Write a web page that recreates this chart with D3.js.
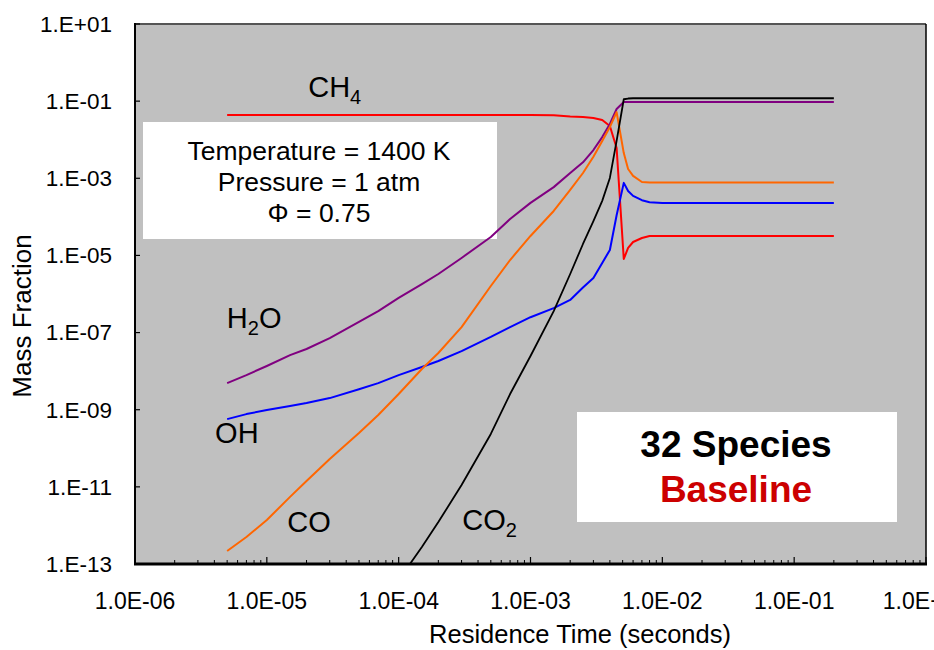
<!DOCTYPE html>
<html>
<head>
<meta charset="utf-8">
<script src="https://cdn.jsdelivr.net/npm/d3@7"></script>
<style>
  html, body { margin: 0; padding: 0; background: #fff; }
  svg { display: block; font-family: "Liberation Sans", Arial, sans-serif; }
</style>
</head>
<body>
<svg id="chart" width="934" height="650"></svg>
<script>
// Residence time grid (seconds)
const time = [5e-6, 7e-6, 1e-5, 1.5e-5, 2e-5, 3e-5, 5e-5, 7e-5, 1e-4, 1.5e-4, 2e-4, 3e-4, 5e-4, 7e-4,
  1e-3, 1.5e-3, 2e-3, 2.5e-3, 3e-3, 3.5e-3, 4e-3, 4.5e-3, 5.1e-3, 5.5e-3, 6e-3, 7e-3, 8e-3, 1e-2, 2e-2, 5e-2, 0.1, 0.2];

// Mass fractions
const ch4 = [4.4e-2, 4.4e-2, 4.4e-2, 4.4e-2, 4.4e-2, 4.4e-2, 4.4e-2, 4.4e-2, 4.4e-2, 4.4e-2, 4.4e-2, 4.4e-2, 4.4e-2, 4.4e-2,
  4.35e-2, 4.3e-2, 4.0e-2, 3.9e-2, 3.66e-2, 3.25e-2, 2.27e-2, 6.1e-3, 8.1e-6, 1.56e-5, 2.23e-5, 2.83e-5, 3.2e-5, 3.2e-5, 3.2e-5, 3.2e-5, 3.2e-5, 3.2e-5];
const h2o = [4.9e-9, 7.9e-9, 1.36e-8, 2.6e-8, 3.75e-8, 7.2e-8, 1.88e-7, 3.6e-7, 7.9e-7, 1.8e-6, 3.3e-6, 8.6e-6, 3.0e-5, 8.8e-5,
  2.3e-4, 5.9e-4, 1.37e-3, 2.6e-3, 5.4e-3, 1.17e-2, 2.55e-2, 6.25e-2, 9.5e-2, 9.5e-2, 9.5e-2, 9.5e-2, 9.5e-2, 9.5e-2, 9.5e-2, 9.5e-2, 9.5e-2, 9.5e-2];
const oh = [5.7e-10, 7.7e-10, 9.8e-10, 1.25e-9, 1.49e-9, 2.0e-9, 3.4e-9, 4.9e-9, 7.9e-9, 1.28e-8, 1.83e-8, 3.3e-8, 7.7e-8, 1.39e-7,
  2.5e-7, 4.3e-7, 7.0e-7, 1.47e-6, 2.6e-6, 6.4e-6, 1.38e-5, 1.1e-4, 7.6e-4, 4.7e-4, 3.5e-4, 2.7e-4, 2.4e-4, 2.3e-4, 2.3e-4, 2.3e-4, 2.3e-4, 2.3e-4];
const co = [2.17e-13, 5.0e-13, 1.38e-12, 5.5e-12, 1.42e-11, 5.3e-11, 2.5e-10, 7.3e-10, 2.55e-9, 1.14e-8, 2.95e-8, 1.39e-7, 1.61e-6, 7.6e-6,
  3.2e-5, 1.42e-4, 5.0e-4, 1.37e-3, 3.6e-3, 9.3e-3, 2.14e-2, 5.2e-2, 4.5e-3, 1.74e-3, 1.15e-3, 8.0e-4, 7.8e-4, 7.8e-4, 7.8e-4, 7.8e-4, 7.8e-4, 7.8e-4];
const co2 = [null, null, null, null, null, null, null, null, 3.85e-14, 2.75e-13, 1.22e-12, 1.12e-11, 2.35e-10, 2.55e-9,
  2.47e-8, 3.6e-7, 3.3e-6, 1.98e-5, 7.8e-5, 2.6e-4, 1.02e-3, 9.3e-3, 0.112, 0.117, 0.119, 0.119, 0.119, 0.119, 0.119, 0.119, 0.119, 0.119];

const seriesNames = ["CH4", "H2O", "OH", "CO", "CO2"];
const seriesValues = [ch4, h2o, oh, co, co2];
const seriesColors = ["#FF0000", "#800080", "#0000FF", "#FF6600", "#000000"];

const xTickValues = [1e-6, 1e-5, 1e-4, 1e-3, 1e-2, 1e-1, 1e0];
const xTickLabels = ["1.0E-06", "1.0E-05", "1.0E-04", "1.0E-03", "1.0E-02", "1.0E-01", "1.0E+00"];
const yTickValues = [1e1, 1e-1, 1e-3, 1e-5, 1e-7, 1e-9, 1e-11, 1e-13];
const yTickLabels = ["1.E+01", "1.E-01", "1.E-03", "1.E-05", "1.E-07", "1.E-09", "1.E-11", "1.E-13"];

// species label anchors (data coords) : [main, subscript, t, v, trailing]
const speciesLabels = [
  ["CH", "4", 2.06e-5, 0.128],
  ["H", "2", 4.97e-6, 1.31e-7, "O"],
  ["OH", "", 4.05e-6, 1.37e-10],
  ["CO", "", 1.43e-5, 6.7e-13],
  ["CO", "2", 3.04e-4, 7.6e-13]
];
const conditionLines = ["Temperature = 1400 K", "Pressure = 1 atm", "\u03A6 = 0.75"];
const titleLines = ["32 Species", "Baseline"];

const W = 934, H = 650;
const plot = { left: 135, top: 24, right: 926, bottom: 564 };

const svg = d3.select("#chart");
const x = d3.scaleLog().domain([1e-6, 1e0]).range([plot.left, plot.right]);
const y = d3.scaleLog().domain([1e-13, 1e1]).range([plot.bottom, plot.top]);

// plot background
svg.append("rect").attr("x", plot.left).attr("y", plot.top)
  .attr("width", plot.right - plot.left).attr("height", plot.bottom - plot.top)
  .attr("fill", "#C0C0C0");

svg.append("clipPath").attr("id", "clip").append("rect")
  .attr("x", plot.left).attr("y", plot.top)
  .attr("width", plot.right - plot.left).attr("height", plot.bottom - plot.top);

// borders top/right
svg.append("line").attr("x1", plot.left).attr("x2", plot.right).attr("y1", plot.top).attr("y2", plot.top)
  .attr("stroke", "#555").attr("stroke-width", 2);
svg.append("line").attr("x1", plot.right).attr("x2", plot.right).attr("y1", plot.top).attr("y2", plot.bottom)
  .attr("stroke", "#000").attr("stroke-width", 1.5);

// text boxes
const box1 = { x: 143, y: 122, w: 354, h: 117 };
svg.append("rect").attr("x", box1.x).attr("y", box1.y).attr("width", box1.w).attr("height", box1.h).attr("fill", "#fff");
conditionLines.forEach((s, i) => {
  svg.append("text").attr("x", box1.x + box1.w / 2 - 1).attr("y", box1.y + 38 + i * 31)
    .attr("text-anchor", "middle").attr("font-size", 26.5).attr("fill", "#000").text(s);
});
const box2 = { x: 577, y: 412, w: 320, h: 110 };
svg.append("rect").attr("x", box2.x).attr("y", box2.y).attr("width", box2.w).attr("height", box2.h).attr("fill", "#fff");
svg.append("text").attr("x", box2.x + box2.w / 2 - 1).attr("y", 457)
  .attr("text-anchor", "middle").attr("font-size", 37).attr("font-weight", "bold").attr("fill", "#000").text(titleLines[0]);
svg.append("text").attr("x", box2.x + box2.w / 2 - 1).attr("y", 502)
  .attr("text-anchor", "middle").attr("font-size", 37).attr("font-weight", "bold").attr("fill", "#CC0000").text(titleLines[1]);

// lines
const line = d3.line().defined(d => d.v != null).x(d => x(d.t)).y(d => y(d.v));
const g = svg.append("g").attr("clip-path", "url(#clip)");
seriesValues.forEach((vals, i) => {
  const data = time.map((t, j) => ({ t, v: vals[j] }));
  g.append("path").datum(data).attr("d", line).attr("fill", "none")
    .attr("stroke", seriesColors[i]).attr("stroke-width", i === 4 ? 1.8 : 2)
    .attr("stroke-linejoin", "round");
});

// species labels
speciesLabels.forEach(l => {
  const t = svg.append("text").attr("x", x(l[2])).attr("y", y(l[3]))
    .attr("font-size", 29).attr("fill", "#000");
  t.append("tspan").text(l[0]);
  if (l[1]) t.append("tspan").attr("font-size", 20).attr("dy", 7).text(l[1]);
  if (l[4]) t.append("tspan").attr("dy", -7).text(l[4]);
});

// axes
const xAxis = svg.append("g");
const minor = [];
for (let e = -6; e < 0; e++) for (let m = 2; m <= 9; m++) minor.push(m * Math.pow(10, e));
xAxis.selectAll("line.minor").data(minor).enter().append("line")
  .attr("x1", d => x(d)).attr("x2", d => x(d)).attr("y1", plot.bottom).attr("y2", plot.bottom - 4)
  .attr("stroke", "#000").attr("stroke-width", 1);
xAxis.selectAll("line.major").data(xTickValues).enter().append("line")
  .attr("x1", d => x(d)).attr("x2", d => x(d)).attr("y1", plot.bottom).attr("y2", plot.bottom - 7)
  .attr("stroke", "#000").attr("stroke-width", 1.2);
xAxis.selectAll("text").data(xTickValues).enter().append("text")
  .attr("x", d => x(d)).attr("y", 609).attr("text-anchor", "middle").attr("font-size", 23)
  .attr("fill", "#000").text((d, i) => xTickLabels[i]);

const yAxis = svg.append("g");
yAxis.selectAll("line").data(yTickValues).enter().append("line")
  .attr("x1", plot.left).attr("x2", plot.left + 5).attr("y1", d => y(d)).attr("y2", d => y(d))
  .attr("stroke", "#000").attr("stroke-width", 1.2);
yAxis.selectAll("text").data(yTickValues).enter().append("text")
  .attr("x", 112).attr("y", d => y(d)).attr("dy", "0.35em").attr("text-anchor", "end").attr("font-size", 22.5)
  .attr("fill", "#000").text((d, i) => yTickLabels[i]);

svg.append("line").attr("x1", plot.left).attr("x2", plot.left).attr("y1", plot.top - 1).attr("y2", plot.bottom + 1)
  .attr("stroke", "#000").attr("stroke-width", 2);
svg.append("line").attr("x1", plot.left - 1).attr("x2", plot.right + 1).attr("y1", plot.bottom).attr("y2", plot.bottom)
  .attr("stroke", "#000").attr("stroke-width", 3);

// axis titles
svg.append("text").attr("x", 580).attr("y", 643).attr("text-anchor", "middle").attr("font-size", 25.5)
  .attr("fill", "#000").text("Residence Time (seconds)");
svg.append("text").attr("transform", "translate(31,316) rotate(-90)").attr("text-anchor", "middle")
  .attr("font-size", 26).attr("fill", "#000").text("Mass Fraction");
</script>
</body>
</html>
